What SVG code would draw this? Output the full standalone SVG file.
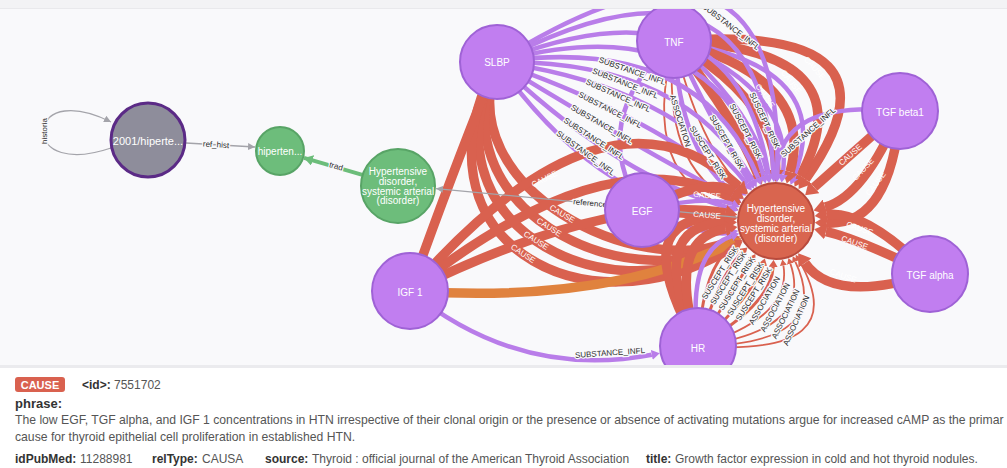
<svg xmlns="http://www.w3.org/2000/svg" width="1007" height="468" viewBox="0 0 1007 468">
<style>
  .e-red{fill:none;stroke:#d9614f;stroke-width:9.5}
  .e-org{fill:none;stroke:#e0823e;stroke-width:9.5}
  .e-pur{fill:none;stroke:#b97de9;stroke-width:4.5}
  .e-med{fill:none;stroke:#d9614f;stroke-width:3}
  .e-thin{fill:none;stroke:#d9614f;stroke-width:1.8}
  .e-grey{fill:none;stroke:#a4a4aa;stroke-width:1.3}
  .e-green{fill:none;stroke:#6cbd7a;stroke-width:4}
  .el{font-family:'Liberation Sans',Arial,sans-serif;font-size:8px;text-anchor:middle;dominant-baseline:central}
  .ew{fill:#fff}
  .ed{fill:#2b2b2b;stroke:#f9f9fb;stroke-width:2.5;paint-order:stroke;stroke-linejoin:round}
  .nl{font-family:'Liberation Sans',Arial,sans-serif;font-size:10px;fill:#fff;text-anchor:middle;dominant-baseline:central}
  .np{fill:#c17ef0;stroke:#9f62d6;stroke-width:2}
  .nr{fill:#d9654f;stroke:#b94b3d;stroke-width:2}
  .ng{fill:#6dbd7b;stroke:#58a466;stroke-width:2}
  .tx{font-family:'Liberation Sans',Arial,sans-serif;font-size:12px;fill:#555}
  .b{font-weight:bold;fill:#333}
</style>
<defs>
  <marker id="mRed" viewBox="0 0 12 16" refX="0" refY="8" markerWidth="12" markerHeight="16" markerUnits="userSpaceOnUse" orient="auto"><path d="M0,0 L12,8 L0,16 z" fill="#d9614f"/></marker>
  <marker id="mOrg" viewBox="0 0 12 16" refX="0" refY="8" markerWidth="12" markerHeight="16" markerUnits="userSpaceOnUse" orient="auto"><path d="M0,0 L12,8 L0,16 z" fill="#e0823e"/></marker>
  <marker id="mPur" viewBox="0 0 8 10" refX="0" refY="5" markerWidth="8" markerHeight="10" markerUnits="userSpaceOnUse" orient="auto"><path d="M0,0 L8,5 L0,10 z" fill="#b97de9"/></marker>
  <marker id="mMed" viewBox="0 0 7 9" refX="0" refY="4.5" markerWidth="7" markerHeight="9" markerUnits="userSpaceOnUse" orient="auto"><path d="M0,0 L7,4.5 L0,9 z" fill="#d9614f"/></marker>
  <marker id="mThin" viewBox="0 0 6 7" refX="0" refY="3.5" markerWidth="6" markerHeight="7" markerUnits="userSpaceOnUse" orient="auto"><path d="M0,0 L6,3.5 L0,7 z" fill="#d9614f"/></marker>
  <marker id="mGrey" viewBox="0 0 7 7" refX="7" refY="3.5" markerWidth="7" markerHeight="7" markerUnits="userSpaceOnUse" orient="auto"><path d="M0,0 L7,3.5 L0,7 z" fill="#a4a4aa"/></marker>
  <marker id="mGreen" viewBox="0 0 9 11" refX="9" refY="5.5" markerWidth="9" markerHeight="11" markerUnits="userSpaceOnUse" orient="auto"><path d="M0,0 L9,5.5 L0,11 z" fill="#6cbd7a"/></marker>
</defs>

<!-- canvas -->
<rect x="0" y="0" width="1007" height="468" fill="#f9f9fb"/>

<g id="connectors">
  <!-- TNF -> hypertensive disorder -->
  <path class="e-red" d="M674,41 Q916.4,22.5 805.5,179.3" marker-end="url(#mRed)"/>
  <path class="e-red" d="M674,41 Q868.6,49.7 800.3,176.1" marker-end="url(#mRed)"/>
  <path class="e-pur" d="M674,41 Q838.1,66.9 793.6,177.4" marker-end="url(#mPur)"/>
  <path class="e-red" d="M674,41 Q816.4,79.2 790,171.9" marker-end="url(#mRed)"/>
  <path class="e-pur" d="M674,41 Q794.6,91.6 782.7,174.5" marker-end="url(#mPur)"/>
  <path class="e-red" d="M674,41 Q775.5,102.4 775.8,170" marker-end="url(#mRed)"/>
  <path class="e-pur" d="M674,41 Q756.3,113.3 767.5,174.8" marker-end="url(#mPur)"/>
  <path class="e-red" d="M674,41 Q738,123.6 757.4,173.5" marker-end="url(#mRed)"/>
  <path class="e-pur" d="M674,41 Q718,135 749.7,182" marker-end="url(#mPur)"/>
  <path class="e-thin" d="M674,41 Q698.9,145.8 743.8,189.6" marker-end="url(#mThin)"/>
  <path class="e-pur" d="M674,41 Q679.8,156.6 737,194.9" marker-end="url(#mPur)"/>
  <path class="e-thin" d="M674,41 Q659.7,168 735,202.3" marker-end="url(#mThin)"/>
  <path class="e-thin" d="M674,41 Q638,180.3 732.8,208.3" marker-end="url(#mThin)"/>
  <path class="e-pur" d="M674,41 Q585,120 642,210"/>

  <!-- SLBP -> hypertensive disorder -->
  <path class="e-pur" d="M497,62 Q785,-119.2 777.2,174" marker-end="url(#mPur)"/>
  <path class="e-pur" d="M497,62 Q760.3,-75.8 773.5,174.1" marker-end="url(#mPur)"/>
  <path class="e-pur" d="M497,62 Q735.5,-32.3 768.6,174.6" marker-end="url(#mPur)"/>
  <path class="e-pur" d="M497,62 Q715.7,2.5 763.5,175.7" marker-end="url(#mPur)"/>
  <path class="e-pur" d="M497,62 Q698.4,32.9 758.1,177.6" marker-end="url(#mPur)"/>
  <path class="e-pur" d="M497,62 Q683.5,59 752.7,180.2" marker-end="url(#mPur)"/>
  <path class="e-pur" d="M497,62 Q668.7,85 746.9,184.1" marker-end="url(#mPur)"/>
  <path class="e-pur" d="M497,62 Q651.35,115.4 740.1,190.6" marker-end="url(#mPur)"/>
  <path class="e-pur" d="M497,62 Q634,145.8 734.5,199" marker-end="url(#mPur)"/>
  <path class="e-pur" d="M497,62 Q616.7,176.3 730.7,208.3" marker-end="url(#mPur)"/>
  <path class="e-pur" d="M497,62 Q599.4,206.7 729.1,217.2" marker-end="url(#mPur)"/>
  <path class="e-red" d="M497,62 C450,190 640,280 729.2,241.3" marker-end="url(#mRed)"/>
  <path class="e-red" d="M497,62 C435,205 620,300 730.5,244.1" marker-end="url(#mRed)"/>
  <path class="e-red" d="M497,62 C420,220 600,320 731.5,246" marker-end="url(#mRed)"/>
  <path class="e-red" d="M497,62 C405,235 580,340 732.4,247.5" marker-end="url(#mRed)"/>
  <path class="e-red" d="M497,62 Q455,165 410,291"/>

  <!-- IGF 1 -->
  <path class="e-red" d="M410,291 Q607,64 738.6,186.3" marker-end="url(#mRed)"/>
  <path class="e-red" d="M410,291 Q607,134 730.7,197.6" marker-end="url(#mRed)"/>
  <path class="e-red" d="M410,291 Q607,194 725.6,212.9" marker-end="url(#mRed)"/>
  <path class="e-org" d="M410,291 Q607,304 730.2,243.5" marker-end="url(#mOrg)"/>
  <path class="e-pur" d="M410,291 Q520,380 651.8,354.8" marker-end="url(#mPur)"/>

  <!-- EGF -->
  <path class="e-red" d="M642,210 Q709,175 734,192.1" marker-end="url(#mRed)"/>
  <path class="e-pur" d="M642,210 Q709,195 732.2,204" marker-end="url(#mPur)"/>
  <path class="e-red" d="M642,210 Q709,215 725.2,216.5" marker-end="url(#mRed)"/>
  <path class="e-pur" d="M642,210 Q709,238 730.5,232.6" marker-end="url(#mPur)"/>

  <!-- TGF beta1 -->
  <path class="e-pur" d="M900,111 Q778.3,98.7 776.9,174" marker-end="url(#mPur)"/>
  <path class="e-red" d="M900,111 Q838,166 814.1,187.2" marker-end="url(#mRed)"/>
  <path class="e-red" d="M900,111 Q864.5,195.9 825.1,207.1" marker-end="url(#mRed)"/>
  <path class="e-red" d="M900,111 Q891,225.8 826.9,223.1" marker-end="url(#mRed)"/>

  <!-- TGF alpha -->
  <path class="e-red" d="M930,274 Q866,209.7 826.6,214.6" marker-end="url(#mRed)"/>
  <path class="e-red" d="M930,274 Q856.3,238 825.9,231.6" marker-end="url(#mRed)"/>
  <path class="e-red" d="M930,274 Q833.5,304.2 805,263" marker-end="url(#mRed)"/>

  <!-- HR -->
  <path class="e-red" d="M698,346 Q622.4,212 725.1,218" marker-end="url(#mRed)"/>
  <path class="e-red" d="M698,346 Q643.6,225.2 725,222.6" marker-end="url(#mRed)"/>
  <path class="e-red" d="M698,346 Q664.8,238.45 725.6,228.9" marker-end="url(#mRed)"/>
  <path class="e-pur" d="M698,346 Q686.1,251.7 731.5,236.2" marker-end="url(#mPur)"/>
  <path class="e-med" d="M698,346 Q703,262.3 736,243.6" marker-end="url(#mMed)"/>
  <path class="e-med" d="M698,346 Q720,272.9 742.3,252.2" marker-end="url(#mMed)"/>
  <path class="e-med" d="M698,346 Q737,283.5 751.7,260" marker-end="url(#mMed)"/>
  <path class="e-med" d="M698,346 Q754,294.1 762.8,265.1" marker-end="url(#mMed)"/>
  <path class="e-med" d="M698,346 Q771,304.7 773.2,266.9" marker-end="url(#mMed)"/>
  <path class="e-thin" d="M698,346 Q792.2,317.95 783.4,265.4" marker-end="url(#mThin)"/>
  <path class="e-thin" d="M698,346 Q813.4,331.2 790.4,263.6" marker-end="url(#mThin)"/>
  <path class="e-thin" d="M698,346 Q834.6,344.5 795.3,261.6" marker-end="url(#mThin)"/>
  <path class="e-thin" d="M698,346 Q855.9,357.7 798.7,259.9" marker-end="url(#mThin)"/>

  <!-- left cluster -->
  <path class="e-grey" d="M111,148 C70,162 42,152 44,130 C46,108 75,104 111,122" marker-end="url(#mGrey)"/>
  <path class="e-grey" d="M186,143 L255,147" marker-end="url(#mGrey)"/>
  <path class="e-green" d="M362.4,174.8 L304,157.9" marker-end="url(#mGreen)"/>
  <path class="e-grey" d="M776,221 L436,188.6" marker-end="url(#mGrey)"/>

  <!-- relationship captions -->
  <text class="el ew" transform="translate(814.6,68.3) rotate(48.5)">CAUSE</text>
  <text class="el ew" transform="translate(791,82) rotate(51)">CAUSE</text>
  <text class="el ew" transform="translate(765,96) rotate(55)">CAUSE</text>
  <text class="el ed" transform="translate(764.5,120.5) rotate(64.9)">SUSCEPT_RISK</text>
  <text class="el ed" transform="translate(745.6,131.3) rotate(62.4)">SUSCEPT_RISK</text>
  <text class="el ed" transform="translate(726.6,142) rotate(60)">SUSCEPT_RISK</text>
  <text class="el ed" transform="translate(707.7,152.7) rotate(57.6)">SUSCEPT_RISK</text>
  <text class="el ed" transform="translate(680.1,120.8) rotate(72.7)">ASSOCIATION</text>
  <text class="el ed" transform="translate(731,27) rotate(38)">SUBSTANCE_INFL</text>

  <text class="el ed" transform="translate(632.2,71.2) rotate(19.1)">SUBSTANCE_INFL</text>
  <text class="el ed" transform="translate(625.2,83.5) rotate(21.6)">SUBSTANCE_INFL</text>
  <text class="el ed" transform="translate(618.2,95.8) rotate(24.1)">SUBSTANCE_INFL</text>
  <text class="el ed" transform="translate(610,110.1) rotate(27.1)">SUBSTANCE_INFL</text>
  <text class="el ed" transform="translate(601.8,124.4) rotate(30.1)">SUBSTANCE_INFL</text>
  <text class="el ed" transform="translate(593.7,138.8) rotate(33.1)">SUBSTANCE_INFL</text>
  <text class="el ed" transform="translate(585.5,153.1) rotate(36.1)">SUBSTANCE_INFL</text>

  <text class="el ew" transform="translate(562,213.9) rotate(31)">CAUSE</text>
  <text class="el ew" transform="translate(549,227.3) rotate(32)">CAUSE</text>
  <text class="el ew" transform="translate(536,240.6) rotate(33)">CAUSE</text>
  <text class="el ew" transform="translate(523,253.8) rotate(34)">CAUSE</text>
  <text class="el ew" transform="translate(544.5,179.1) rotate(-26.3)">CAUSE</text>

  <text class="el ew" transform="translate(707,195.5) rotate(4.7)">CAUSE</text>
  <text class="el ew" transform="translate(707,215.3) rotate(4.7)">CAUSE</text>

  <text class="el ed" transform="translate(808.2,132.4) rotate(-41.6)">SUBSTANCE_INFL</text>
  <text class="el ew" transform="translate(850.4,155.1) rotate(-41.6)">CAUSE</text>
  <text class="el ew" transform="translate(863.2,169.4) rotate(-47.1)">CAUSE</text>
  <text class="el ew" transform="translate(875.9,183.8) rotate(-52.5)">CAUSE</text>

  <text class="el ew" transform="translate(859.5,228.6) rotate(19)">CAUSE</text>
  <text class="el ew" transform="translate(854.6,242.8) rotate(19)">CAUSE</text>
  <text class="el ew" transform="translate(843.2,275.9) rotate(19)">CAUSE</text>

  <text class="el ed" transform="translate(720,272.9) rotate(-58)">SUSCEPT_RISK</text>
  <text class="el ed" transform="translate(728.5,278.2) rotate(-58)">SUSCEPT_RISK</text>
  <text class="el ed" transform="translate(737,283.5) rotate(-58)">SUSCEPT_RISK</text>
  <text class="el ed" transform="translate(745.5,288.8) rotate(-58)">SUSCEPT_RISK</text>
  <text class="el ed" transform="translate(754,294.1) rotate(-58)">SUSCEPT_RISK</text>
  <text class="el ed" transform="translate(764.6,300.7) rotate(-60)">ASSOCIATION</text>
  <text class="el ed" transform="translate(775.2,307.4) rotate(-62)">ASSOCIATION</text>
  <text class="el ed" transform="translate(785.8,314) rotate(-64)">ASSOCIATION</text>
  <text class="el ed" transform="translate(796.4,320.6) rotate(-66)">ASSOCIATION</text>

  <text class="el ed" transform="translate(610,353) rotate(-4)">SUBSTANCE_INFL</text>
  <text class="el ed" transform="translate(590,203.3) rotate(5.4)">reference</text>
  <text class="el ed" transform="translate(44,131) rotate(-90)">historia</text>
  <text class="el ed" transform="translate(216,144.8) rotate(3.3)">ref_hist</text>
  <text class="el ed" transform="translate(336,166.5) rotate(16.1)">trad</text>
</g>

<!-- nodes -->
<g id="node-2001">
  <circle cx="148" cy="140" r="37" fill="#8e8d9b" stroke="#5b2a86" stroke-width="3"/>
  <text class="nl" x="148" y="141" style="font-size:11px">2001/hiperte...</text>
</g>
<g id="node-hiperten">
  <circle class="ng" cx="280" cy="151" r="24"/>
  <text class="nl" x="280" y="151">hiperten...</text>
</g>
<g id="node-hypertensive-green">
  <circle class="ng" cx="398" cy="186" r="37"/>
  <text class="nl" x="398" y="171.5">Hypertensive<tspan x="398" dy="9.6">disorder,</tspan><tspan x="398" dy="9.6">systemic arterial</tspan><tspan x="398" dy="9.6">(disorder)</tspan></text>
</g>
<g id="node-slbp">
  <circle class="np" cx="497" cy="62" r="37"/>
  <text class="nl" x="497" y="62">SLBP</text>
</g>
<g id="node-tnf">
  <circle class="np" cx="674" cy="41" r="37"/>
  <text class="nl" x="674" y="42">TNF</text>
</g>
<g id="node-tgf-beta1">
  <circle class="np" cx="900" cy="111" r="38"/>
  <text class="nl" x="900" y="112">TGF beta1</text>
</g>
<g id="node-egf">
  <circle class="np" cx="642" cy="210" r="37"/>
  <text class="nl" x="642" y="211">EGF</text>
</g>
<g id="node-hypertensive-red">
  <circle class="nr" cx="776" cy="221" r="38"/>
  <text class="nl" x="776" y="208">Hypertensive<tspan x="776" dy="10">disorder,</tspan><tspan x="776" dy="10">systemic arterial</tspan><tspan x="776" dy="10">(disorder)</tspan></text>
</g>
<g id="node-igf1">
  <circle class="np" cx="410" cy="291" r="38"/>
  <text class="nl" x="410" y="292">IGF 1</text>
</g>
<g id="node-tgf-alpha">
  <circle class="np" cx="930" cy="274" r="38"/>
  <text class="nl" x="930" y="275">TGF alpha</text>
</g>
<g id="node-hr">
  <circle class="np" cx="698" cy="346" r="38"/>
  <text class="nl" x="698" y="348">HR</text>
</g>

<!-- top strip of the canvas -->
<rect x="0" y="0" width="1007" height="8" fill="#f3f3f5"/>
<rect x="0" y="8" width="1007" height="1" fill="#e9e9ec"/>

<!-- relationship details panel -->
<g id="details">
  <rect x="0" y="366" width="1007" height="102" fill="#ffffff"/>
  <rect x="0" y="365" width="1007" height="3" fill="#ebebee"/>
  <rect x="15" y="377" width="50" height="15" rx="3" fill="#d9614f"/>
  <text x="40" y="388.5" text-anchor="middle" style="font-family:'Liberation Sans',Arial,sans-serif;font-size:11px;font-weight:bold;fill:#fff">CAUSE</text>
  <text class="tx" x="82" y="389"><tspan class="b">&lt;id&gt;:</tspan> 7551702</text>
  <text class="tx b" x="15" y="408" style="font-size:13px">phrase:</text>
  <text class="tx" x="15" y="424" style="font-size:12.2px">The low EGF, TGF alpha, and IGF 1 concentrations in HTN irrespective of their clonal origin or the presence or absence of activating mutations argue for increased cAMP as the primar</text>
  <text class="tx" x="15" y="441" style="font-size:12.2px">cause for thyroid epithelial cell proliferation in established HTN.</text>
  <text class="tx" y="463"><tspan class="b" x="15">idPubMed:</tspan><tspan x="80">11288981</tspan><tspan class="b" x="152">relType:</tspan><tspan x="202">CAUSA</tspan><tspan class="b" x="265">source:</tspan><tspan x="312">Thyroid : official journal of the American Thyroid Association</tspan><tspan class="b" x="646">title:</tspan><tspan x="675">Growth factor expression in cold and hot thyroid nodules.</tspan></text>
</g>
</svg>
